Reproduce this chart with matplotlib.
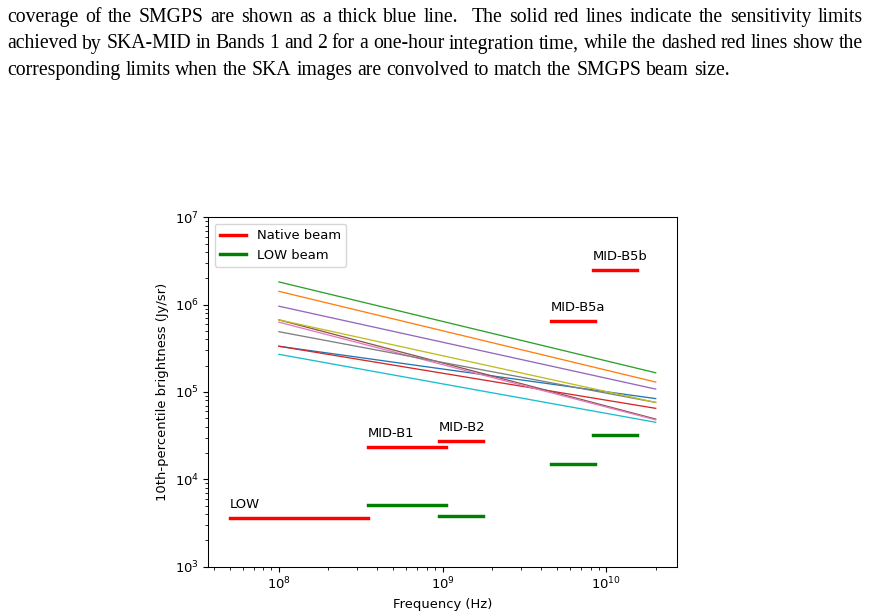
import numpy as np
import matplotlib
matplotlib.use("Agg")
import matplotlib.pyplot as plt

# survey lines: brightness at 100 MHz and at 20 GHz
freq_ends = [1e8, 2e10]
survey_start = [3.34e5, 1.42e6, 1.82e6, 3.34e5, 9.6e5, 6.7e5, 6.3e5, 4.9e5, 6.7e5, 2.7e5]
survey_end = [8.4e4, 1.30e5, 1.66e5, 6.5e4, 1.08e5, 4.9e4, 4.8e4, 7.6e4, 7.6e4, 4.5e4]

# SKA bands: (name, f_lo, f_hi, native limit, LOW-beam limit)
band_names = ["LOW", "MID-B1", "MID-B2", "MID-B5a", "MID-B5b"]
band_lo = [5.0e7, 3.5e8, 9.5e8, 4.6e9, 8.3e9]
band_hi = [3.5e8, 1.05e9, 1.76e9, 8.5e9, 1.54e10]
native_limit = [3.6e3, 2.35e4, 2.75e4, 6.5e5, 2.5e6]
lowbeam_limit = [None, 5.1e3, 3.8e3, 1.5e4, 3.2e4]

caption = [
    ("coverage of the SMGPS are shown as a thick blue line.  The solid red lines indicate the sensitivity limits", True),
    ("achieved by SKA-MID in Bands 1 and 2 for a one-hour integration time, while the dashed red lines show the", True),
    ("corresponding limits when the SKA images are convolved to match the SMGPS beam size.", False),
]

W, H = 870, 615
s = 0.945  # scale of the embedded figure
plt.rcParams.update({
    "font.size": 10 * s,
    "axes.linewidth": 0.8 * s,
    "xtick.major.size": 3.5 * s, "ytick.major.size": 3.5 * s,
    "xtick.minor.size": 2 * s, "ytick.minor.size": 2 * s,
})

fig = plt.figure(figsize=(W / 100, H / 100), dpi=100)
ax = fig.add_axes([208.3 / W, 1 - 566.7 / H, (677 - 208.3) / W, (566.7 - 217.3) / H])

for i in range(len(survey_start)):
    ax.plot(freq_ends, [survey_start[i], survey_end[i]], color="C%d" % i, lw=1.0 * s)

for i in range(len(band_names)):
    ax.plot([band_lo[i], band_hi[i]], [native_limit[i]] * 2, color="red", lw=2.6 * s)
    if lowbeam_limit[i] is not None:
        ax.plot([band_lo[i], band_hi[i]], [lowbeam_limit[i]] * 2, color="green", lw=2.6 * s)
    ax.text(band_lo[i], native_limit[i] * 1.3, band_names[i], va="baseline")

ax.plot([], [], color="red", lw=2.6 * s, label="Native beam")
ax.plot([], [], color="green", lw=2.6 * s, label="LOW beam")
ax.legend(loc="upper left")

ax.set_xscale("log")
ax.set_yscale("log")
ax.set_ylim(1e3, 1e7)
ax.set_xlabel("Frequency (Hz)")
ax.set_ylabel("10th-percentile brightness (Jy/sr)")

# caption text from the page, justified
fs = 14.2
renderer = fig.canvas.get_renderer()
left, right = 7, 863
baselines = [22, 48.5, 75]
for (line, justify), yb in zip(caption, baselines):
    words = line.split(" ")
    ts = [fig.text(0, 1 - yb / H, w, fontsize=fs, family="Liberation Serif", va="baseline")
          for w in words]
    widths = [t.get_window_extent(renderer).width for t in ts]
    space = 0.25 * fs * 100 / 72
    if justify:
        gap = (right - left - sum(widths)) / (len(words) - 1)
    else:
        gap = space
    x = left
    for t, w in zip(ts, widths):
        t.set_x(x / W)
        x += w + gap

fig.savefig("out.png", dpi=100)
